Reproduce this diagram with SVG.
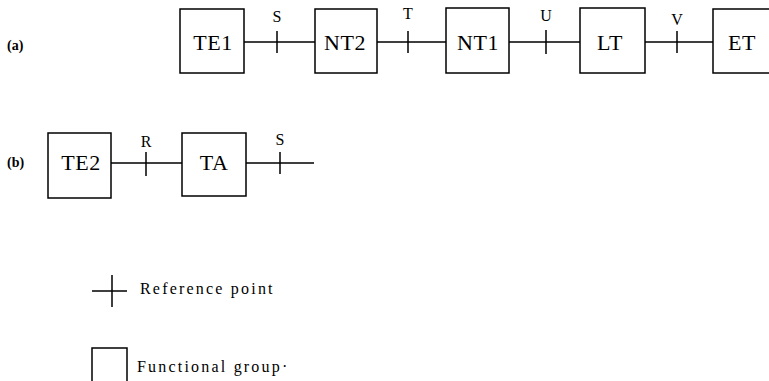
<svg xmlns="http://www.w3.org/2000/svg" width="769" height="381" viewBox="0 0 769 381">
<style>
.box{fill:#fff;stroke:#000;stroke-width:1.5}
.ln{stroke:#000;stroke-width:1.5;fill:none}
.lbl{font-family:"Liberation Serif","Times New Roman",serif;font-size:22px;text-anchor:middle;fill:#000;letter-spacing:0.5px}
.rp{font-family:"Liberation Serif","Times New Roman",serif;font-size:16px;text-anchor:middle;fill:#000}
.pl{font-family:"Liberation Serif","Times New Roman",serif;font-size:14px;fill:#000;font-weight:bold}
.lg{font-family:"Liberation Serif","Times New Roman",serif;font-size:16px;fill:#000;letter-spacing:2.2px}
</style>
<rect width="769" height="381" fill="#fff"/>
<text class="pl" x="7" y="50">(a)</text>
<text class="pl" x="7" y="167">(b)</text>
<g id="connectors">
<path class="ln" d="M244 42H315M377 42H446M509 42H580M645 42H713"/>
<path class="ln" d="M277 31V53M408 31V53M546 30V54M677 31V53"/>
<path class="ln" d="M111 163H182M246 163H314"/>
<path class="ln" d="M146 152V176M280 152V174"/>
<text class="rp" x="277" y="22">S</text>
<text class="rp" x="408" y="19">T</text>
<text class="rp" x="546" y="21">U</text>
<text class="rp" x="677" y="25">V</text>
<text class="rp" x="146" y="147">R</text>
<text class="rp" x="280" y="145">S</text>
</g>
<g id="TE1"><rect class="box" x="180" y="9" width="64" height="64"/><text class="lbl" x="213" y="50">TE1</text></g>
<g id="NT2"><rect class="box" x="315" y="9" width="62" height="64"/><text class="lbl" x="345" y="50">NT2</text></g>
<g id="NT1"><rect class="box" x="446" y="8" width="63" height="65"/><text class="lbl" x="478" y="50">NT1</text></g>
<g id="LT"><rect class="box" x="580" y="8" width="65" height="65"/><text class="lbl" x="610" y="50">LT</text></g>
<g id="ET"><rect class="box" x="713" y="9" width="62" height="64"/><text class="lbl" x="742" y="50">ET</text></g>
<g id="TE2"><rect class="box" x="48" y="133" width="63" height="65"/><text class="lbl" x="81" y="170">TE2</text></g>
<g id="TA"><rect class="box" x="182" y="133" width="64" height="63"/><text class="lbl" x="214" y="170">TA</text></g>
<g id="legend">
<path class="ln" d="M92 291H127M112 275V307"/>
<text class="lg" x="140" y="294">Reference point</text>
<path class="ln" d="M92 384V348H127V384"/>
<text class="lg" x="137" y="372">Functional group·</text>
</g>
</svg>
